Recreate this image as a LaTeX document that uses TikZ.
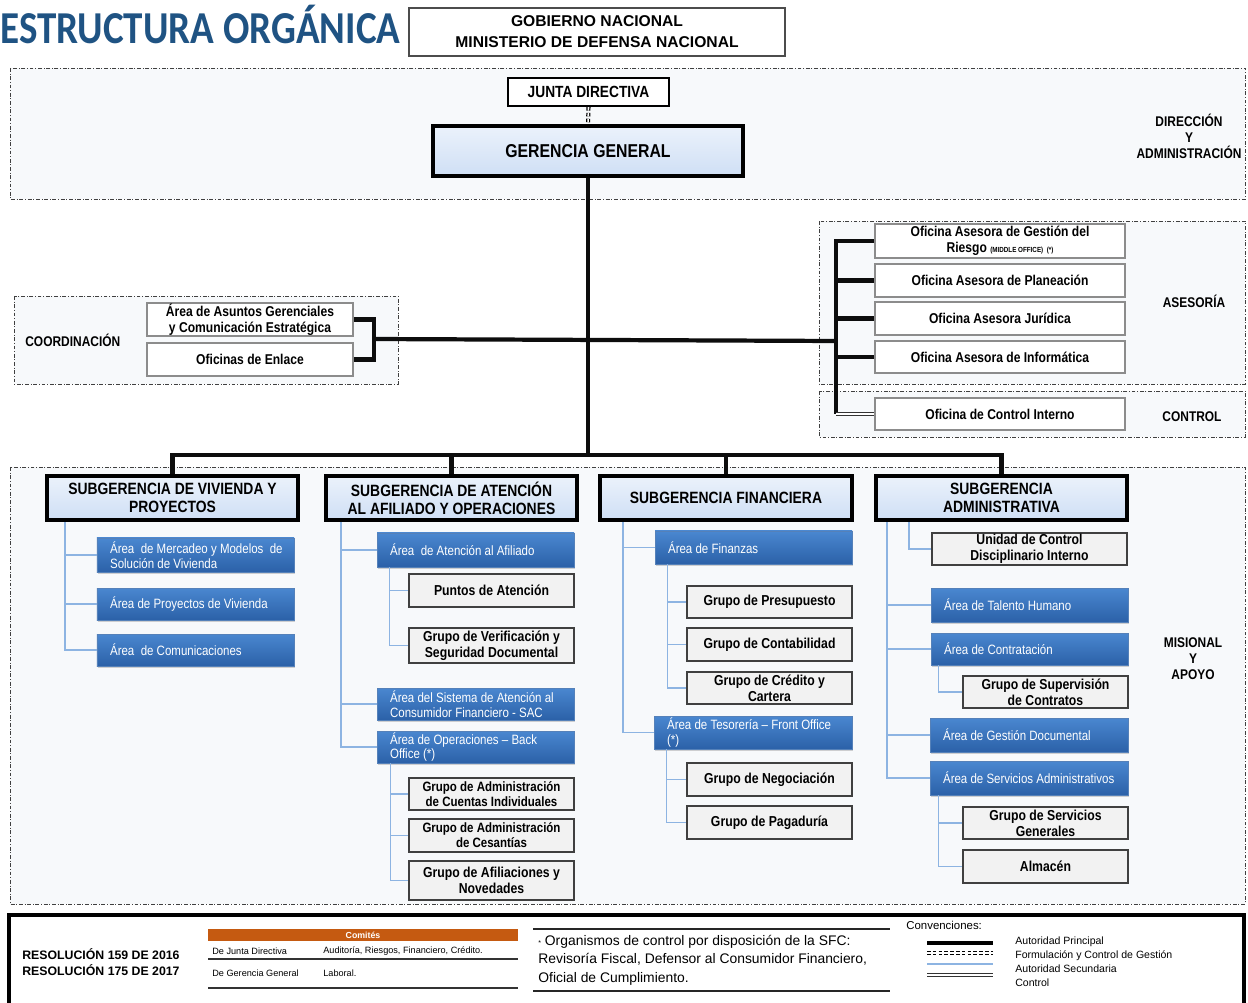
\documentclass[tikz,border=0pt]{standalone}
\usepackage{fontspec}
\setmainfont{Liberation Sans}
\newfontfamily\cond{Liberation Sans}[FakeStretch=0.85]
\newfontfamily\titlef{Carlito}[FakeStretch=0.855]
\usetikzlibrary{calc,shadows}
\definecolor{regfill}{HTML}{F7F9FB}
\definecolor{titleblue}{HTML}{1F5383}
\definecolor{subtop}{HTML}{EBF2FB}
\definecolor{subbot}{HTML}{CFDFF5}
\definecolor{bluetop}{HTML}{4A87D0}
\definecolor{bluebot}{HTML}{2B61A8}
\definecolor{blueln}{HTML}{8DB4E2}
\definecolor{grayfill}{HTML}{F2F2F2}
\definecolor{orangeh}{HTML}{C55A11}
\newcommand\fsz[2]{\fontsize{#1}{#2}\selectfont}
\newcommand\bx[7]{\pgfmathsetmacro\bw{(#5-#3)*0.02}\pgfmathsetmacro\bh{(#6-#4)*0.02}%
  \node[#1, minimum width=\bw cm, minimum height=\bh cm] (#2) at ({(#3+#5)/2},{(#4+#6)/2}) {#7};}
\newcommand\bbx[6]{\pgfmathsetmacro\bw{(#4-#2)*0.02}\pgfmathsetmacro\bh{(#5-#3)*0.02}%
  \node[bbox, minimum width=\bw cm, minimum height=\bh cm] (#1) at ({(#2+#4)/2},{(#3+#5)/2}) {};
  \node[btext] (#1t) at ($(#1.west)+(13,0)$) {#6};}
\tikzset{
  region/.style={draw=black!75, line width=0.45pt, dash pattern=on 2.2pt off 1pt on 0.5pt off 1pt, fill=regfill},
  hbox/.style={draw=black!70, line width=0.6pt, fill=white, align=center, inner sep=0pt, font=\bfseries\fsz{8.9}{12}},
  wbox/.style={draw=black!45, line width=0.9pt, fill=white, align=center, inner sep=0pt, font=\cond\bfseries\fsz{8.1}{9.2}},
  jbox/.style={draw=black, line width=1.3pt, fill=white, align=center, inner sep=0pt, font=\cond\bfseries\fsz{9.2}{10}},
  gbox/.style={draw=black!75, line width=0.8pt, fill=grayfill, align=center, inner sep=0pt, font=\cond\bfseries\fsz{8.2}{9.2},
    drop shadow={opacity=0.25, shadow xshift=0.6pt, shadow yshift=-0.6pt}},
  gsm/.style={gbox, font=\cond\bfseries\fsz{7.7}{8.6}},
  bbox/.style={draw=bluebot!80!white, line width=0.3pt, top color=bluetop, bottom color=bluebot, inner sep=0pt,
    drop shadow={opacity=0.35, shadow xshift=0.8pt, shadow yshift=-1.2pt}},
  btext/.style={text=white, align=left, inner sep=0pt, anchor=west, font=\cond\fsz{7.7}{8.5}},
  sbox/.style={draw=black, line width=2.3pt, top color=subtop, bottom color=subbot, align=center, inner sep=0pt,
    font=\cond\bfseries\fsz{9.3}{10.3}, drop shadow={opacity=0.3, shadow xshift=0.8pt, shadow yshift=-1pt}},
  ggbox/.style={sbox, font=\cond\bfseries\fsz{10.6}{12}},
  cmhead/.style={fill=orangeh, inner sep=0pt, text=white, font=\bfseries\fsz{5}{6}},
  main/.style={line width=2.4pt, draw=black!95},
  bl/.style={draw=blueln, line width=0.8pt},
  ctrl/.style={draw=black!80, double=white, double distance=1.1pt, line width=0.5pt},
  fcg/.style={draw=black, double=white, double distance=0.9pt, line width=0.7pt, dash pattern=on 2pt off 1.3pt},
  lbl/.style={font=\cond\bfseries\fsz{8}{9.1}, align=center, inner sep=0pt},
  tsm/.style={font=\fsz{5.2}{6}, inner sep=0pt, anchor=west},
  leg/.style={font=\fsz{6}{7}, inner sep=0pt, anchor=west},
}
\begin{document}
\begin{tikzpicture}[x=0.02cm,y=-0.02cm]
\fill[white] (0,0) rectangle (1248,1003);
\useasboundingbox (0,0) rectangle (1248,1003);

% header
\node[font=\titlef\bfseries\fsz{26}{28}, text=titleblue, anchor=west, inner sep=0pt] (title) at (0,24) {ESTRUCTURA ORGÁNICA};
\bx{hbox}{gob}{409}{8}{785}{56}{GOBIERNO NACIONAL\\MINISTERIO DE DEFENSA NACIONAL}

% regions
\draw[region] (10,68) rectangle (1245,199);
\draw[region] (14,296) rectangle (398,384);
\draw[region] (819,221) rectangle (1245,384);
\draw[region] (819,391) rectangle (1245,437);
\draw[region] (10,467) rectangle (1245,904);

\node[lbl] (ldir) at (1189,136) {DIRECCIÓN\\Y\\ADMINISTRACIÓN};
\node[lbl] (lase) at (1194,301) {ASESORÍA};
\node[lbl] (lctl) at (1192,417) {CONTROL};
\node[lbl] (lmis) at (1193,659) {MISIONAL\\Y\\APOYO};
\node[lbl, anchor=west] (lcoo) at (25,340) {COORDINACIÓN};

% top
\bx{jbox}{JD}{508}{78}{669}{106}{JUNTA DIRECTIVA}
\bx{ggbox}{GG}{433}{126}{743}{176}{GERENCIA GENERAL}

% coordination
\bx{wbox}{C1}{147}{303}{353}{336}{Área de Asuntos Gerenciales\\y Comunicación Estratégica}
\bx{wbox}{C2}{147}{343}{353}{376}{Oficinas de Enlace}

% asesoria
\bx{wbox}{R1}{875}{224}{1125}{258}{Oficina Asesora de Gestión del\\Riesgo {\fsz{4.2}{5}(MIDDLE OFFICE)\ \ (*)}}
\bx{wbox}{R2}{875}{264}{1125}{297}{Oficina Asesora de Planeación}
\bx{wbox}{R3}{875}{302}{1125}{335}{Oficina Asesora Jurídica}
\bx{wbox}{R4}{875}{341}{1125}{373}{Oficina Asesora de Informática}
\bx{wbox}{CI}{875}{398}{1125}{430}{Oficina de Control Interno}

% subgerencias
\bx{sbox}{S1}{47}{476}{298}{520}{SUBGERENCIA DE VIVIENDA Y\\PROYECTOS}
\bx{sbox}{S2}{326}{476}{577}{520}{SUBGERENCIA DE ATENCIÓN\\AL AFILIADO Y OPERACIONES}
\bx{sbox}{S3}{600}{476}{852}{520}{SUBGERENCIA FINANCIERA}
\bx{sbox}{S4}{876}{476}{1127}{520}{SUBGERENCIA\\ADMINISTRATIVA}

% blue areas
\bbx{V1}{97}{538}{294}{572}{Área\ \ de Mercadeo y Modelos\ \ de\\Solución de Vivienda}
\bbx{V2}{97}{588}{294}{620}{Área de Proyectos de Vivienda}
\bbx{V3}{97}{634}{294}{666}{Área\ \ de Comunicaciones}
\bbx{A1}{377}{533}{574}{567}{Área\ \ de Atención al Afiliado}
\bbx{A2}{377}{688}{574}{720}{Área del Sistema de Atención al\\Consumidor Financiero - SAC}
\bbx{A3}{377}{731}{574}{763}{Área de Operaciones – Back\\Office (*)}
\bbx{F1}{655}{531}{852}{564}{Área de Finanzas}
\bbx{F2}{654}{716}{852}{749}{Área de Tesorería – Front Office\\(*)}
\bbx{T1}{931}{588}{1128}{622}{Área de Talento Humano}
\bbx{T2}{931}{633}{1128}{665}{Área de Contratación}
\bbx{T3}{930}{718}{1128}{752}{Área de Gestión Documental}
\bbx{T4}{930}{761}{1128}{795}{Área de Servicios Administrativos}

% gray groups
\bx{gbox}{P1}{409}{574}{574}{607}{Puntos de Atención}
\bx{gbox}{P2}{409}{628}{574}{663}{Grupo de Verificación y\\Seguridad Documental}
\bx{gsm}{G1}{409}{778}{574}{810}{Grupo de Administración\\de Cuentas Individuales}
\bx{gsm}{G2}{409}{819}{574}{852}{Grupo de Administración\\de Cesantías}
\bx{gbox}{G3}{409}{861}{574}{900}{Grupo de Afiliaciones y\\Novedades}
\bx{gbox}{FP}{687}{586}{852}{618}{Grupo de Presupuesto}
\bx{gbox}{FC}{687}{628}{852}{661}{Grupo de Contabilidad}
\bx{gbox}{FK}{687}{672}{852}{704}{Grupo de Crédito y\\Cartera}
\bx{gbox}{TN}{687}{763}{852}{796}{Grupo de Negociación}
\bx{gbox}{TP}{687}{806}{852}{839}{Grupo de Pagaduría}
\bx{gbox}{UC}{932}{533}{1127}{565}{Unidad de Control\\Disciplinario Interno}
\bx{gbox}{SC}{963}{676}{1128}{708}{Grupo de Supervisión\\de Contratos}
\bx{gbox}{SG}{963}{807}{1128}{839}{Grupo de Servicios\\Generales}
\bx{gbox}{AL}{963}{850}{1128}{883}{Almacén}

% main connectors
\coordinate (bus) at (588,455);
\draw[main] (GG.south) -- (bus);
\draw[main] (S1.north) |- (S4.north |- bus) -- (S4.north);
\draw[main] (S2.north) -- (S2.north |- bus);
\draw[main] (S3.north) -- (S3.north |- bus);
\draw[fcg] (JD.south) -- (GG.north);

\draw[main] (C1.east) -- ++(20,0) |- (C2.east);
\coordinate (cj) at (373,339);
\coordinate (aj) at (837,341);
\draw[main] (cj) -- (aj);
\draw[main] (R1.west) -| ($(CI.west)+(-38,0)$);
\draw[main] (R2.west) -- ++(-38,0);
\draw[main] (R3.west) -- ++(-38,0);
\draw[main] (R4.west) -- ++(-38,0);
\draw[ctrl] ($(CI.west)+(-38,0)$) -- (CI.west);

% secondary (blue) connectors
\foreach \c in {V1,V2,V3} \draw[bl] ($(S1.south west)+(20,0)$) |- (\c.west);
\foreach \c in {A1,A2,A3} \draw[bl] ($(S2.south west)+(17,0)$) |- (\c.west);
\foreach \c in {P1,P2} \draw[bl] ($(A1.south west)+(13,0)$) |- (\c.west);
\foreach \c in {G1,G2,G3} \draw[bl] ($(A3.south west)+(14,0)$) |- (\c.west);
\foreach \c in {F1,F2} \draw[bl] ($(S3.south west)+(25,0)$) |- (\c.west);
\foreach \c in {FP,FC,FK} \draw[bl] ($(F1.south west)+(13,0)$) |- (\c.west);
\foreach \c in {TN,TP} \draw[bl] ($(F2.south west)+(13,0)$) |- (\c.west);
\foreach \c in {T1,T2,T3,T4} \draw[bl] ($(S4.south west)+(13,0)$) |- (\c.west);
\draw[bl] ($(S4.south west)+(35,0)$) |- (UC.west);
\draw[bl] ($(T2.south west)+(8,0)$) |- (SC.west);
\foreach \c in {SG,AL} \draw[bl] ($(T4.south west)+(9,0)$) |- (\c.west);

% legend panel
\draw[line width=1.8pt] (9,1012) -- (9,915) -- (1244,915) -- (1244,1012);
\node[font=\bfseries\fsz{7}{9.1}, align=left, anchor=west, inner sep=0pt] (res) at (22,962) {RESOLUCIÓN 159 DE 2016\\RESOLUCIÓN 175 DE 2017};

\bx{cmhead}{cmh}{208}{929}{518}{941}{Comités}
\node[tsm] (r1a) at (212,951) {De Junta Directiva};
\node[tsm] (r1b) at (323,951) {Auditoría, Riesgos, Financiero, Crédito.};
\node[tsm] (r2a) at (212,973) {De Gerencia General};
\node[tsm] (r2b) at (323,973) {Laboral.};
\draw[line width=1pt, black!80] (208,959) -- (518,959);
\draw[line width=1pt, black!80] (208,988) -- (518,988);

\draw[line width=1pt, black!85] (533,929) -- (890,929);
\draw[line width=1pt, black!85] (533,991) -- (890,991);
\node[anchor=north west, align=left, font=\fsz{7.9}{10.4}, inner sep=0pt] (sfc) at (538,935)
  {{\fsz{4}{5}*} Organismos de control por disposición de la SFC:\\Revisoría Fiscal, Defensor al Consumidor Financiero,\\Oficial de Cumplimiento.};

\node[anchor=west, font=\fsz{6.5}{7}, inner sep=0pt] (conv) at (906,925) {Convenciones:};
\coordinate (l1a) at (927,943); \coordinate (l1b) at (993,943);
\coordinate (l2a) at (927,953); \coordinate (l2b) at (993,953);
\coordinate (l3a) at (927,964); \coordinate (l3b) at (993,964);
\coordinate (l4a) at (927,975); \coordinate (l4b) at (993,975);
\draw[line width=2.6pt] (l1a) -- (l1b);
\draw[fcg] (l2a) -- (l2b);
\draw[bl, line width=0.6pt] (l3a) -- (l3b);
\draw[ctrl] (l4a) -- (l4b);
\node[leg] (t1) at (1015,942) {Autoridad Principal};
\node[leg] (t2) at (1015,956) {Formulación y Control de Gestión};
\node[leg] (t3) at (1015,969) {Autoridad Secundaria};
\node[leg] (t4) at (1015,983) {Control};
\end{tikzpicture}
\end{document}
